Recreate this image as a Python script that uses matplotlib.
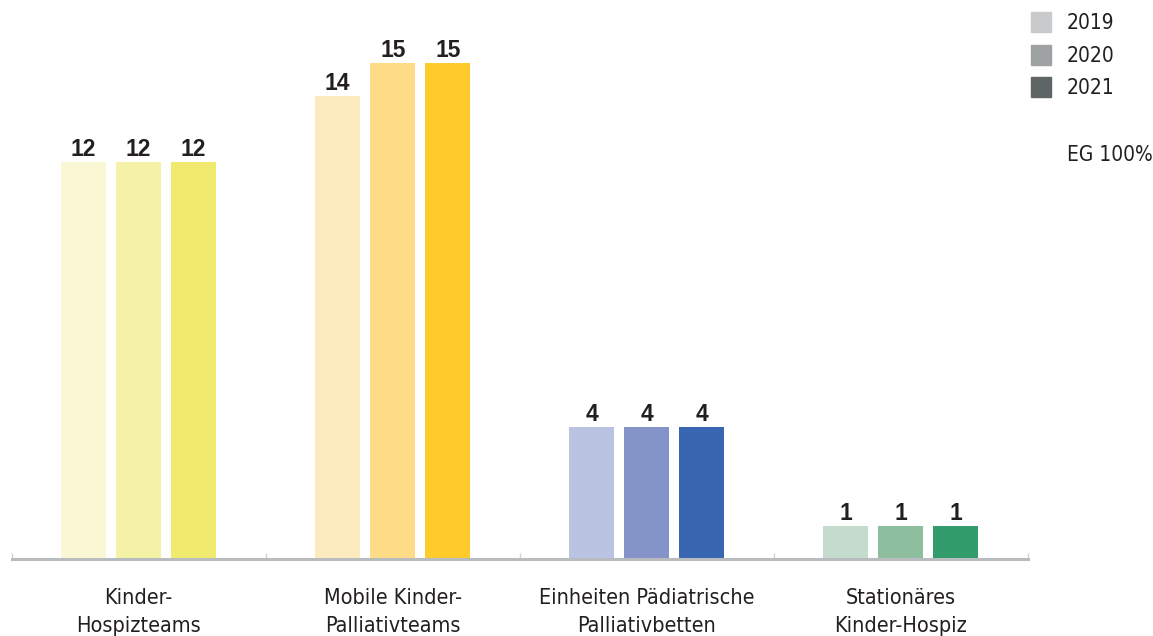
import matplotlib
matplotlib.use("Agg")
import matplotlib.pyplot as plt
from matplotlib.patches import Rectangle
import numpy as np

categories = ["Kinder-\nHospizteams", "Mobile Kinder-\nPalliativteams",
              "Einheiten Pädiatrische\nPalliativbetten", "Stationäres\nKinder-Hospiz"]
years = ["2019", "2020", "2021"]
values_2019 = [12, 14, 4, 1]
values_2020 = [12, 15, 4, 1]
values_2021 = [12, 15, 4, 1]
footnote = "EG 100%"

bar_colors = [
    ["#faf7d4", "#f3f2a6", "#f0eb6e"],
    ["#fdebc0", "#fedb87", "#fecb2a"],
    ["#bbc3e2", "#8594c8", "#3866b1"],
    ["#c3dccd", "#8dbf9f", "#329c6d"],
]
legend_colors = ["#c8cacb", "#9fa2a3", "#5f6465"]

label_font = dict(family="DejaVu Sans", fontstretch="condensed", color="#231f20")
value_font = dict(family="Liberation Sans", fontweight="bold", color="#231f20")

W, H = 1153, 636
fig = plt.figure(figsize=(W / 100, H / 100), dpi=100)
ax = fig.add_axes([11.5 / W, (H - 559) / H, (1028 - 11.5) / W, (559 - 13) / H])

series = [values_2019, values_2020, values_2021]
x = np.arange(len(categories))
step = 55 / 254
width = 45 / 254
for s, vals in enumerate(series):
    for i, v in enumerate(vals):
        xpos = x[i] + (s - 1) * step
        ax.bar(xpos, v, width=width, color=bar_colors[i][s], zorder=2)
        ax.text(xpos, v + 0.18, str(v), ha="center", va="baseline",
                fontsize=16.5, **value_font)

ax.set_xlim(-0.5, len(categories) - 0.5)
ax.set_ylim(0, 16.5)
for side in ["top", "right", "left"]:
    ax.spines[side].set_visible(False)
ax.spines["bottom"].set_color("#b8bcbe")
ax.spines["bottom"].set_linewidth(2.2)
ax.spines["bottom"].set_zorder(3)
ax.set_yticks([])
ax.set_xticks(np.arange(-0.5, len(categories), 1.0))
ax.set_xticklabels([])
ax.tick_params(axis="x", direction="in", length=4, width=1, color="#d0d3d4")
ax.set_xticks(x, minor=True)
ax.set_xticklabels(categories, minor=True, fontsize=15.5, linespacing=1.5,
                   **label_font)
ax.tick_params(axis="x", which="minor", length=0, pad=21)

# legend
for k, (yr, col) in enumerate(zip(years, legend_colors)):
    ytop = 12 + k * 32.5
    fig.patches.append(Rectangle((1031 / W, 1 - (ytop + 20) / H), 20 / W, 20 / H,
                                 transform=fig.transFigure, color=col))
    fig.text(1067 / W, 1 - (ytop + 11) / H, yr, fontsize=15,
             va="center", ha="left", **label_font)
fig.text(1067 / W, 1 - 155 / H, footnote, fontsize=15,
         va="center", ha="left", **label_font)

fig.savefig("out.png", dpi=100)
